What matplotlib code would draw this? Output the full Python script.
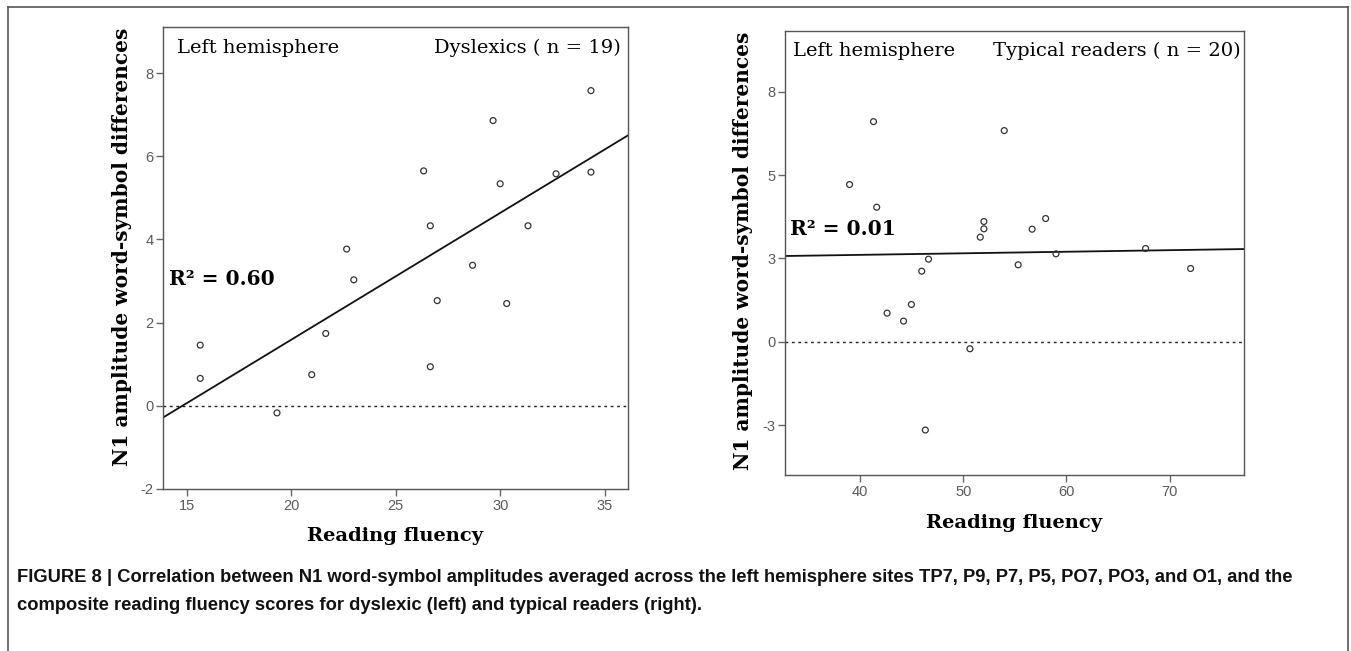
import numpy as np
import matplotlib
matplotlib.use("Agg")
import matplotlib.pyplot as plt
from matplotlib.lines import Line2D

plt.rcParams['axes.unicode_minus'] = False

# data
# left panel: dyslexics (n = 19)
dys_fluency = [34.33, 29.65, 26.33, 32.66, 34.33, 29.99, 26.65, 31.32, 22.65, 28.67,
               22.99, 26.98, 30.30, 21.65, 15.65, 15.65, 20.98, 26.65, 19.32]
dys_n1 = [7.58, 6.86, 5.65, 5.58, 5.62, 5.34, 4.33, 4.33, 3.77, 3.38,
          3.03, 2.53, 2.46, 1.74, 1.46, 0.66, 0.75, 0.94, -0.17]

# right panel: typical readers (n = 20)
typ_fluency = [41.31, 53.97, 38.99, 41.62, 52.00, 52.00, 57.98, 56.67, 51.65, 67.66,
               58.98, 46.64, 45.98, 55.32, 72.02, 44.98, 42.63, 44.22, 50.65, 46.33]
typ_n1 = [6.61, 6.34, 4.72, 4.04, 3.61, 3.39, 3.70, 3.38, 3.14, 2.80,
          2.64, 2.48, 2.12, 2.31, 2.20, 1.12, 0.86, 0.62, -0.21, -2.65]

dys_xticks = [15, 20, 25, 30, 35]
dys_yticks = [-2, 0, 2, 4, 6, 8]
typ_xticks = [40, 50, 60, 70]
typ_yticks = [-2.5, 0, 2.5, 5, 7.5]
typ_yticklabels = ['-3', '0', '3', '5', '8']   # SPSS rounds the .5 ticks

W, H = 1351, 651
fig = plt.figure(figsize=(W / 100, H / 100), dpi=100)

def px_axes(left, top, right, bottom):
    # axes placed from pixel edges measured on the reference
    return fig.add_axes([left / W, 1 - bottom / H, (right - left) / W, (bottom - top) / H])

serif = 'DejaVu Serif'
tick_col = '#5a5a5a'
ylab = 'N1 amplitude word-symbol differences'

def style(ax):
    for s in ax.spines.values():
        s.set_color('#555555')
        s.set_linewidth(1.0)
    ax.tick_params(direction='out', length=5, width=1, color='#666666',
                   labelcolor=tick_col, labelsize=10.5, pad=2)
    for lab in ax.get_xticklabels() + ax.get_yticklabels():
        lab.set_family('Liberation Sans')

def panel(ax, x, y, xlim, ylim):
    x = np.array(x)
    y = np.array(y)
    ax.axhline(0, color='#222222', lw=1.0, ls=(0, (2, 2.6)), zorder=1)
    ax.scatter(x, y, s=18, facecolors='none', edgecolors='#333333', linewidths=0.9, zorder=3)
    b, a = np.polyfit(x, y, 1)
    xs = np.array(xlim)
    ax.plot(xs, a + b * xs, color='#111111', lw=1.3, zorder=2)
    ax.set_xlim(xlim)
    ax.set_ylim(ylim)

# ---- left panel ----
ax1 = px_axes(163, 27, 628, 489)
panel(ax1, dys_fluency, dys_n1, (13.87, 36.1), (-2, 9.11))
ax1.set_xticks(dys_xticks)
ax1.set_yticks(dys_yticks)
style(ax1)
ax1.text(0.03, 0.975, 'Left hemisphere', transform=ax1.transAxes, ha='left', va='top',
         family=serif, fontsize=14)
ax1.text(0.985, 0.975, 'Dyslexics ( n = 19)', transform=ax1.transAxes, ha='right', va='top',
         family=serif, fontsize=14)
ax1.text(0.012, 0.455, 'R\u00b2 = 0.60', transform=ax1.transAxes, ha='left', va='center',
         family=serif, fontsize=14.5, fontweight='bold')
ax1.set_xlabel('Reading fluency', family=serif, fontsize=14, fontweight='bold', labelpad=10)
fig.text(122 / W, 1 - 247 / H, ylab, rotation=90, ha='center', va='center',
         family=serif, fontsize=14.5, fontweight='bold')

# ---- right panel ----
ax2 = px_axes(785, 31, 1244, 475)
panel(ax2, typ_fluency, typ_n1, (32.74, 77.19), (-4.0, 9.33))
ax2.set_xticks(typ_xticks)
ax2.set_yticks(typ_yticks)
ax2.set_yticklabels(typ_yticklabels)
style(ax2)
ax2.text(0.018, 0.975, 'Left hemisphere', transform=ax2.transAxes, ha='left', va='top',
         family=serif, fontsize=14)
ax2.text(0.993, 0.975, 'Typical readers ( n = 20)', transform=ax2.transAxes, ha='right', va='top',
         family=serif, fontsize=14)
ax2.text(0.01, 0.555, 'R\u00b2 = 0.01', transform=ax2.transAxes, ha='left', va='center',
         family=serif, fontsize=14.5, fontweight='bold')
ax2.set_xlabel('Reading fluency', family=serif, fontsize=14, fontweight='bold', labelpad=11)
fig.text(743 / W, 1 - 251 / H, ylab, rotation=90, ha='center', va='center',
         family=serif, fontsize=14.5, fontweight='bold')

# outer frame of the figure panel (top, left, right)
frame_col = '#555555'
fig.add_artist(Line2D([8 / W, 1348 / W], [1 - 7 / H, 1 - 7 / H], color=frame_col, lw=1.2))
fig.add_artist(Line2D([8 / W, 8 / W], [0, 1 - 7 / H], color=frame_col, lw=1.2))
fig.add_artist(Line2D([1348 / W, 1348 / W], [0, 1 - 7 / H], color=frame_col, lw=1.2))

caption1 = ('FIGURE 8 | Correlation between N1 word-symbol amplitudes averaged across the left '
            'hemisphere sites TP7, P9, P7, P5, PO7, PO3, and O1, and the')
caption2 = 'composite reading fluency scores for dyslexic (left) and typical readers (right).'
fig.text(17 / W, 1 - 578 / H, caption1, ha='left', va='center', family='Liberation Sans',
         fontweight='bold', fontsize=13.2, color='#111111')
fig.text(17 / W, 1 - 605 / H, caption2, ha='left', va='center', family='Liberation Sans',
         fontweight='bold', fontsize=13.2, color='#111111')

fig.savefig('out.png', dpi=100)
